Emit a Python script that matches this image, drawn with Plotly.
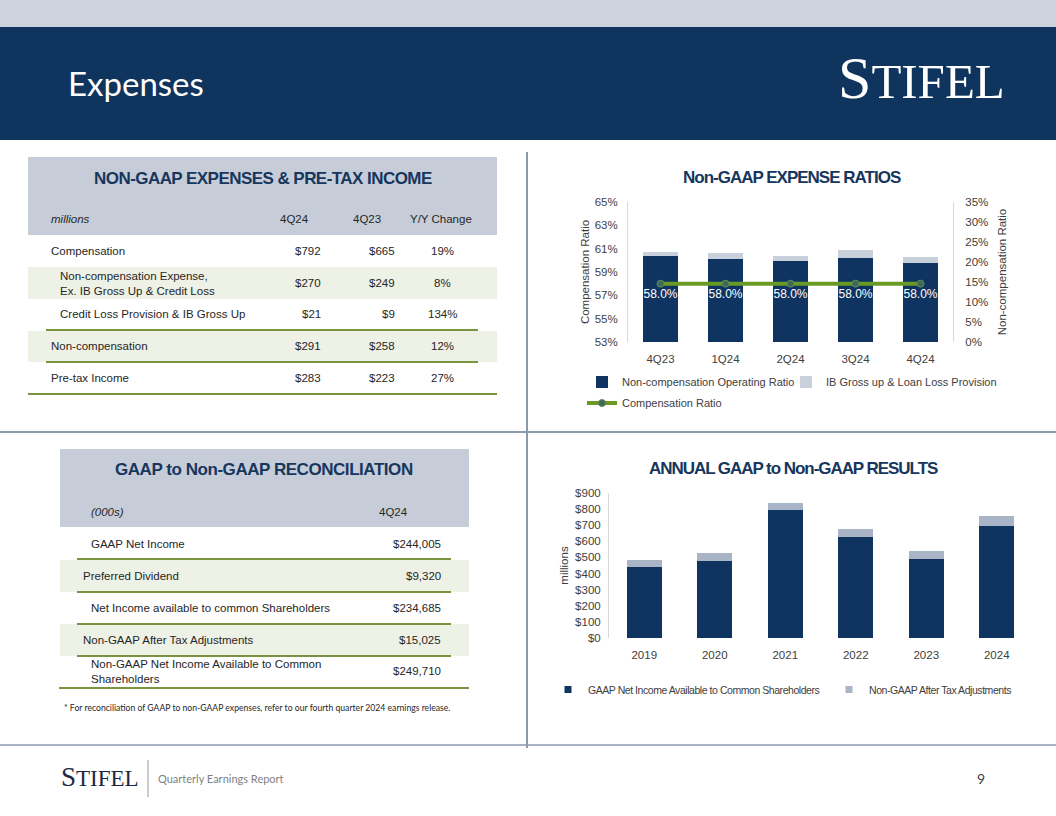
import plotly.graph_objects as go

W, H = 1056, 816
def X(px): return px / W
def Y(py): return 1 - py / H

NAVY = "#0f3461"
LIGHT_TOP = "#c8d0dc"
LIGHT_BOT = "#a9b5c7"
GREEN = "#6a9a23"
GREEN_LINE = "#7a9440"
HDR_BG = "#c6cdd8"
ROW_BG = "#eef1e5"
TXT = "#262626"
SANS = "Liberation Sans, Arial, sans-serif"
SERIF = "Liberation Serif, Times New Roman, serif"
CAL = "Lato, Open Sans, sans-serif"
NOTICK = "rgba(0,0,0,0)"

# ---------------- data ----------------
quarters = ["4Q23", "1Q24", "2Q24", "3Q24", "4Q24"]
noncomp_operating_ratio = [21.6, 20.8, 20.2, 21.1, 19.7]
ib_gross_loan_loss = [0.8, 1.4, 1.3, 1.8, 1.6]
compensation_ratio = [58.0, 58.0, 58.0, 58.0, 58.0]

years = ["2019", "2020", "2021", "2022", "2023", "2024"]
gaap_net_income_common = [439, 480, 796, 629, 490, 698]
non_gaap_after_tax_adj = [45, 46, 45, 50, 48, 62]

exp_rows = ["Compensation", "Non-compensation Expense,<br>Ex. IB Gross Up & Credit Loss",
            "Credit Loss Provision & IB Gross Up", "Non-compensation", "Pre-tax Income"]
exp_4q24 = ["$792", "$270", "$21", "$291", "$283"]
exp_4q23 = ["$665", "$249", "$9", "$258", "$223"]
exp_yoy = ["19%", "8%", "134%", "12%", "27%"]

rec_rows = ["GAAP Net Income", "Preferred Dividend", "Net Income available to common Shareholders",
            "Non-GAAP After Tax Adjustments", "Non-GAAP Net Income Available to Common<br>Shareholders"]
rec_4q24 = ["$244,005", "$9,320", "$234,685", "$15,025", "$249,710"]

def tight(s, ls):
    return f"<span style='letter-spacing:{ls}px'>{s}</span>"

fig = go.Figure()

# ---------------- top-right chart ----------------
fig.add_trace(go.Bar(x=quarters, y=noncomp_operating_ratio, name="Non-compensation Operating Ratio",
                     marker=dict(color=NAVY, line=dict(width=0)), width=0.54,
                     xaxis="x", yaxis="y", legend="legend"))
fig.add_trace(go.Bar(x=quarters, y=ib_gross_loan_loss, name="IB Gross up & Loan Loss Provision",
                     marker=dict(color=LIGHT_TOP, line=dict(width=0)), width=0.54,
                     xaxis="x", yaxis="y", legend="legend2"))
fig.add_trace(go.Scatter(x=quarters, y=compensation_ratio, name="Compensation Ratio",
                         mode="lines+markers+text",
                         text=[f"{v:.1f}%" for v in compensation_ratio],
                         textposition=["bottom center"] * 5,
                         textfont=dict(color="white", size=12, family=SANS),
                         line=dict(color=GREEN, width=4),
                         marker=dict(color="#3f6b55", size=7, line=dict(color="#5f8a5a", width=1)),
                         xaxis="x", yaxis="y2", legend="legend3"))

# ---------------- bottom-right chart ----------------
fig.add_trace(go.Bar(x=years, y=gaap_net_income_common, name="GAAP Net Income Available to Common Shareholders",
                     marker=dict(color=NAVY, line=dict(width=0)), width=0.5,
                     xaxis="x2", yaxis="y3", showlegend=False))
fig.add_trace(go.Bar(x=years, y=non_gaap_after_tax_adj, name="Non-GAAP After Tax Adjustments",
                     marker=dict(color=LIGHT_BOT, line=dict(width=0)), width=0.5,
                     xaxis="x2", yaxis="y3", showlegend=False))
# legend entries with small square symbols
fig.add_trace(go.Scatter(x=[None], y=[None], mode="markers",
                         name=tight("GAAP Net Income Available to Common Shareholders", -0.45),
                         marker=dict(symbol="square", size=7, color=NAVY),
                         xaxis="x2", yaxis="y3", legend="legend4"))
fig.add_trace(go.Scatter(x=[None], y=[None], mode="markers",
                         name=tight("Non-GAAP After Tax Adjustments", -0.45),
                         marker=dict(symbol="square", size=7, color=LIGHT_BOT),
                         xaxis="x2", yaxis="y3", legend="legend5"))

tickfont = dict(family=SANS, size=11.5, color="#404040")
shapes, ann = [], []

def rect(x0, y0, x1, y1, color):
    shapes.append(dict(type="rect", xref="paper", yref="paper", x0=X(x0), x1=X(x1), y0=Y(y0), y1=Y(y1),
                       fillcolor=color, line=dict(width=0), layer="below"))

def hline(x0, x1, y, color, w):
    shapes.append(dict(type="line", xref="paper", yref="paper", x0=X(x0), x1=X(x1), y0=Y(y), y1=Y(y),
                       line=dict(color=color, width=w), layer="above"))

def vline(x, y0, y1, color, w):
    shapes.append(dict(type="line", xref="paper", yref="paper", x0=X(x), x1=X(x), y0=Y(y0), y1=Y(y1),
                       line=dict(color=color, width=w), layer="above"))

def text(x, y, s, size=12, color=TXT, family=SANS, xanchor="left", align="left"):
    ann.append(dict(xref="paper", yref="paper", x=X(x), y=Y(y), text=s, showarrow=False,
                    xanchor=xanchor, yanchor="middle", align=align,
                    font=dict(family=family, size=size, color=color)))

# header bands
rect(0, 0, 1056, 27, "#ccd3dd")
rect(0, 27, 1056, 140, "#0f345e")
text(66, 83, "Expenses", size=33, color="white", family=CAL)
text(836, 78, "<span style='font-size:60px'>S</span>TIFEL", size=49, color="white", family=SERIF)

# separators
vline(527, 152, 748, "#8c9ab0", 2)
hline(0, 1056, 432, "#8c9ab0", 2)
hline(0, 1056, 745, "#8c9ab0", 1.5)

# footer
text(59, 777, "<span style='font-size:27px'>S</span>TIFEL", size=23, color="#1a2a44", family=SERIF)
vline(148, 760, 797, "#9a9a9a", 1)
text(156, 778, "Quarterly Earnings Report", size=11, color="#7f7f7f", family=CAL)
text(981, 778, "9", size=14, color="#404040", family=CAL, xanchor="center")

FS = 11.5
# ---------------- top-left table ----------------
rect(28, 157, 497, 235, HDR_BG)
text(263, 178, tight("<b>NON-GAAP EXPENSES &amp; PRE-TAX INCOME</b>", -0.55), size=17, color="#17365d", xanchor="center")
text(49, 219, "<i>millions</i>", size=FS)
text(294, 219, "4Q24", size=FS, xanchor="center")
text(367, 219, "4Q23", size=FS, xanchor="center")
text(441, 219, "Y/Y Change", size=FS, xanchor="center")
rect(28, 267, 497, 299, ROW_BG)
rect(28, 331, 497, 362, ROW_BG)
row_y = [251, 283, 314, 346, 378]
row_x = [49, 58, 58, 49, 49]
for i in range(len(exp_rows)):
    text(row_x[i], row_y[i], exp_rows[i], size=FS)
    text(323, row_y[i], exp_4q24[i], size=FS, xanchor="right")
    text(397, row_y[i], exp_4q23[i], size=FS, xanchor="right")
    text(442, row_y[i], exp_yoy[i], size=FS, xanchor="center")
hline(46, 478, 330, GREEN_LINE, 2)
hline(46, 478, 362, GREEN_LINE, 2)
hline(28, 497, 394, GREEN_LINE, 2)

# ---------------- bottom-left table ----------------
rect(60, 449, 469, 527, HDR_BG)
text(264, 470, tight("<b>GAAP to Non-GAAP RECONCILIATION</b>", -0.45), size=17, color="#17365d", xanchor="center")
text(89, 512, "<i>(000s)</i>", size=FS)
text(393, 512, "4Q24", size=FS, xanchor="center")
rect(60, 560, 469, 592, ROW_BG)
rect(60, 624, 469, 656, ROW_BG)
rec_y = [544, 576, 608, 640, 671]
rec_x = [89, 81, 89, 81, 89]
for i in range(len(rec_rows)):
    text(rec_x[i], rec_y[i], rec_rows[i], size=FS)
    text(443, rec_y[i], rec_4q24[i], size=FS, xanchor="right")
for yy in [559, 592, 624, 656]:
    hline(77, 451, yy, GREEN_LINE, 2)
hline(59, 469, 688, GREEN_LINE, 2)
text(62, 707, "* For reconciliation of GAAP to non-GAAP expenses, refer to our fourth quarter 2024 earnings release.",
     size=8.65, color="#262626", family=CAL)

# chart titles
text(792, 177, tight("<b>Non-GAAP EXPENSE RATIOS</b>", -1.0), size=17, color="#17365d", xanchor="center")
text(793, 469, tight("<b>ANNUAL GAAP to Non-GAAP RESULTS</b>", -1.05), size=17, color="#17365d", xanchor="center")

def leg(x, y, size):
    return dict(orientation="h", x=X(x), y=Y(y), xanchor="left", yanchor="top", xref="paper", yref="paper",
                bgcolor="rgba(0,0,0,0)", font=dict(family=SANS, size=size, color="#404040"), itemwidth=30)

axis_title_font = dict(family=SANS, size=11.5, color="#404040")
fig.update_layout(
    width=W, height=H, autosize=False, margin=dict(l=0, r=0, t=0, b=0, pad=0),
    paper_bgcolor="white", plot_bgcolor="rgba(0,0,0,0)",
    barmode="stack", shapes=shapes, annotations=ann,
    font=dict(family=SANS, color="#404040"),
    xaxis=dict(domain=[X(628), X(953)], anchor="y", showline=False, showgrid=False,
               ticks="outside", ticklen=6, tickcolor=NOTICK,
               tickfont=tickfont, automargin=False),
    yaxis=dict(domain=[Y(342), Y(202)], side="right", range=[0, 35], dtick=5, ticksuffix="%",
               showline=True, linecolor="#d9d9d9", linewidth=1, showgrid=False, zeroline=False,
               ticks="outside", ticklen=9, tickcolor=NOTICK,
               tickfont=tickfont, anchor="x", automargin=False,
               title=dict(text="Non-compensation Ratio", font=axis_title_font, standoff=10)),
    yaxis2=dict(overlaying="y", side="left", range=[53, 65], dtick=2, tick0=53, ticksuffix="%",
                showline=True, linecolor="#d9d9d9", linewidth=1, showgrid=False, zeroline=False,
                ticks="outside", ticklen=7, tickcolor=NOTICK,
                tickfont=tickfont, anchor="x", automargin=False,
                title=dict(text="Compensation Ratio", font=axis_title_font, standoff=2)),
    xaxis2=dict(domain=[X(609), X(1032)], anchor="y3", showline=False, showgrid=False,
                ticks="outside", ticklen=6, tickcolor=NOTICK,
                tickfont=tickfont, automargin=False),
    yaxis3=dict(domain=[Y(638), Y(493)], range=[0, 900], dtick=100, tickprefix="$",
                showline=True, linecolor="#d9d9d9", linewidth=1, showgrid=False, zeroline=False,
                ticks="outside", ticklen=5, tickcolor=NOTICK,
                tickfont=tickfont, anchor="x2", automargin=False,
                title=dict(text="millions", font=axis_title_font, standoff=4)),
    legend=leg(582, 367.5, 11),
    legend2=leg(786, 367.5, 11),
    legend3=leg(582, 388.5, 11),
    legend4=leg(548, 675, 10.5),
    legend5=leg(829, 675, 10.5),
)

fig.write_html("out.html", config=dict(displayModeBar=False),
               post_script="document.body.style.margin='0px';document.body.style.padding='0px';")
